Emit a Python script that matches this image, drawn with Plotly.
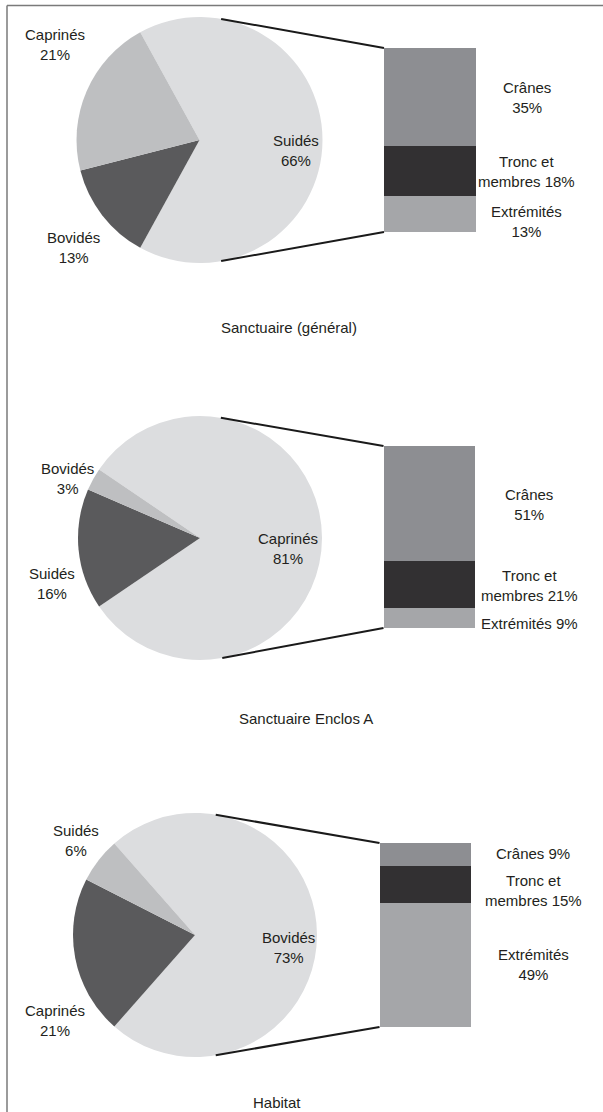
import math
import plotly.graph_objects as go

W, H = 603, 1112

# ---- data -------------------------------------------------------------
titles = ["Sanctuaire (général)", "Sanctuaire Enclos A", "Habitat"]

# pie slices, listed clockwise starting with the slice broken out into the bar
general_pie_labels = ["Suidés", "Bovidés", "Caprinés"]
general_pie_values = [66, 13, 21]
enclos_pie_labels = ["Caprinés", "Suidés", "Bovidés"]
enclos_pie_values = [81, 16, 3]
habitat_pie_labels = ["Bovidés", "Caprinés", "Suidés"]
habitat_pie_values = [73, 21, 6]

# breakdown of the broken-out slice
bar_labels = ["Crânes", "Tronc et membres", "Extrémités"]
general_bar_values = [35, 18, 13]
enclos_bar_values = [51, 21, 9]
habitat_bar_values = [9, 15, 49]

# ---- styling ----------------------------------------------------------
slice_colors = ["#DCDDDF", "#5A5A5C", "#BEBFC1"]
bar_colors = ["#8D8E92", "#323032", "#A5A6A9"]
FONT = dict(family="Liberation Sans, Arial, sans-serif", size=15, color="#231F20")

panels = [
    dict(title=titles[0], labels=general_pie_labels, values=general_pie_values,
         bars=general_bar_values,
         pie=(199.5, 140, 123), bar=(384, 476, 48, 232),
         pie_text=[(296, 150), (73, 247), (55, 45)],
         bar_text=[(527, 97, "two"), (526, 171.5, "wrap"), (526, 221.5, "two")],
         title_pos=(289, 328)),
    dict(title=titles[1], labels=enclos_pie_labels, values=enclos_pie_values,
         bars=enclos_bar_values,
         pie=(200, 538, 122), bar=(383.5, 475, 446, 628),
         pie_text=[(288, 548.5), (52, 583), (67, 478.5)],
         bar_text=[(529, 504.5, "two"), (529, 585.5, "wrap"), (529, 623, "one")],
         title_pos=(306, 718)),
    dict(title=titles[2], labels=habitat_pie_labels, values=habitat_pie_values,
         bars=habitat_bar_values,
         pie=(195, 935, 122), bar=(379.5, 471, 843, 1027),
         pie_text=[(288, 947), (55, 1020), (76, 840)],
         bar_text=[(533, 853, "one"), (533, 890.5, "wrap"), (533, 964, "two")],
         title_pos=(277, 1102)),
]


def px(x):
    return x / W


def py(y):
    return 1 - y / H


def tangent_point(cx, cy, r, qx, qy, upper):
    """Point where the line from (qx, qy) touches the circle."""
    dx, dy = qx - cx, cy - qy
    d = math.hypot(dx, dy)
    phi = math.atan2(dy, dx)
    a = math.acos(r / d)
    t = phi + a if upper else phi - a
    return cx + r * math.cos(t), cy - r * math.sin(t)


def label_text(name, value, style):
    if style == "one":
        return f"{name} {value}%"
    if style == "wrap":
        words = name.split()
        return f"{' '.join(words[:-1])}<br>{words[-1]} {value}%"
    return f"{name}<br>{value}%"


fig = go.Figure()
shapes = []
annotations = []
layout_axes = {}

for i, p in enumerate(panels):
    cx, cy, r = p["pie"]
    vals = p["values"]
    total = sum(vals)

    # pie, with the broken-out slice centred on 3 o'clock
    fig.add_trace(go.Pie(
        labels=p["labels"], values=vals, sort=False, direction="clockwise",
        rotation=90 - 180 * vals[0] / total,
        marker=dict(colors=slice_colors, line=dict(width=0)),
        textinfo="none", hoverinfo="label+percent", showlegend=False,
        domain=dict(x=[px(cx - r), px(cx + r)], y=[py(cy + r), py(cy - r)]),
    ))
    for (tx, ty), name, v in zip(p["pie_text"], p["labels"], vals):
        annotations.append(dict(x=px(tx), y=py(ty), xref="paper", yref="paper",
                                text=f"{name}<br>{v}%", showarrow=False,
                                xanchor="center", yanchor="middle", align="center",
                                font=FONT))

    # stacked bar on its own axes
    x0, x1, y0, y1 = p["bar"]
    xa = "x" if i == 0 else f"x{i + 1}"
    ya = "y" if i == 0 else f"y{i + 1}"
    for name, v, c in zip(bar_labels, p["bars"], bar_colors):
        fig.add_trace(go.Bar(x=[0], y=[v], width=1, name=name, xaxis=xa, yaxis=ya,
                             marker=dict(color=c, line=dict(width=0)),
                             showlegend=False, hovertemplate=f"{name}: {v}%<extra></extra>"))
    key = "" if i == 0 else str(i + 1)
    layout_axes[f"xaxis{key}"] = dict(domain=[px(x0), px(x1)], range=[-0.5, 0.5],
                                      visible=False, fixedrange=True,
                                      anchor=ya)
    layout_axes[f"yaxis{key}"] = dict(domain=[py(y1), py(y0)], range=[sum(p["bars"]), 0],
                                      visible=False, fixedrange=True,
                                      anchor=xa)
    for (tx, ty, style), name, v in zip(p["bar_text"], bar_labels, p["bars"]):
        annotations.append(dict(x=px(tx), y=py(ty), xref="paper", yref="paper",
                                text=label_text(name, v, style), showarrow=False,
                                xanchor="center", yanchor="middle", align="center",
                                font=FONT))

    # connector lines tangent to the pie
    for qy, upper in ((y0, True), (y1, False)):
        tx, ty = tangent_point(cx, cy, r, x0, qy, upper)
        shapes.append(dict(type="line", xref="paper", yref="paper",
                           x0=px(tx), y0=py(ty), x1=px(x0), y1=py(qy),
                           line=dict(color="#1A1A1A", width=2)))

    tx, ty = p["title_pos"]
    annotations.append(dict(x=px(tx), y=py(ty), xref="paper", yref="paper",
                            text=p["title"], showarrow=False,
                            xanchor="center", yanchor="middle", font=FONT))

# frame along the top and left edges
shapes.append(dict(type="line", xref="paper", yref="paper",
                   x0=px(7), y0=py(5.5), x1=1, y1=py(5.5),
                   line=dict(color="#7A7A7A", width=1.5)))
shapes.append(dict(type="line", xref="paper", yref="paper",
                   x0=px(7), y0=py(5.5), x1=px(7), y1=0,
                   line=dict(color="#7A7A7A", width=1.5)))

fig.update_layout(
    width=W, height=H, margin=dict(l=0, r=0, t=0, b=0),
    paper_bgcolor="white", plot_bgcolor="white",
    barmode="stack", bargap=0,
    shapes=shapes, annotations=annotations,
    font=FONT,
    **layout_axes,
)

fig.write_html("out.html")
